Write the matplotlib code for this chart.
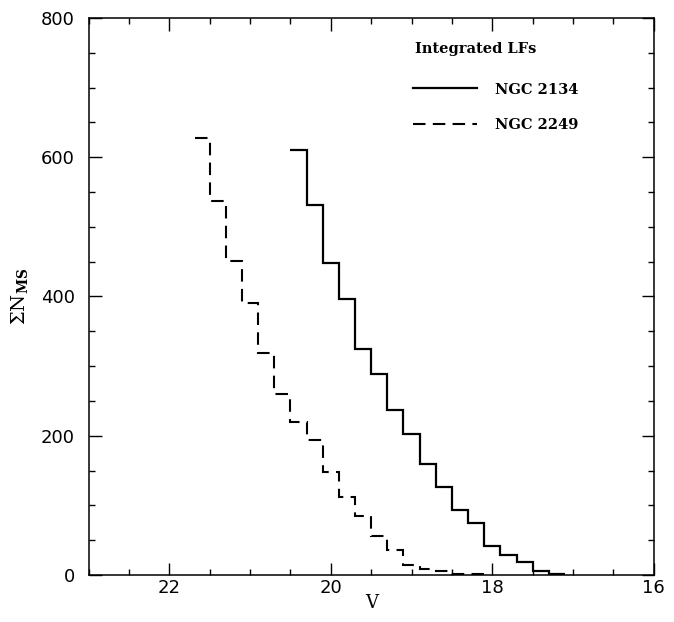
import matplotlib
matplotlib.use("Agg")
import matplotlib.pyplot as plt
from matplotlib.ticker import MultipleLocator

plt.rcParams["mathtext.fontset"] = "dejavuserif"

# Bin edges (V magnitude) and cumulative counts
edges_2134 = [20.5, 20.3, 20.1, 19.9, 19.7, 19.5, 19.3, 19.1, 18.9, 18.7,
              18.5, 18.3, 18.1, 17.9, 17.7, 17.5, 17.3, 17.1]
N_2134 = [610, 532, 448, 396, 325, 288, 237, 202, 160, 127,
          94, 75, 42, 28, 18, 6, 2]

edges_2249 = [21.7, 21.5, 21.3, 21.1, 20.9, 20.7, 20.5, 20.3, 20.1, 19.9,
              19.7, 19.5, 19.3, 19.1, 18.9, 18.7, 18.5, 18.3, 18.1]
N_2249 = [627, 537, 451, 390, 319, 260, 220, 194, 148, 112,
          85, 56, 36, 14, 8, 5, 2, 1]

labels = ["NGC 2134", "NGC 2249"]
legend_title = "Integrated LFs"

fig = plt.figure(figsize=(6.74, 6.22), dpi=100)
ax = fig.add_axes([0.1315, 0.0756, 0.8385, 0.8955])

ax.stairs(N_2134[::-1], edges_2134[::-1], baseline=None, color="black",
          linewidth=1.6, label=labels[0])
ax.stairs(N_2249[::-1], edges_2249[::-1], baseline=None, color="black",
          linewidth=1.5, linestyle=(0, (6, 3.5)), label=labels[1])

ax.set_xlim(23, 16)
ax.set_ylim(0, 800)
ax.xaxis.set_major_locator(MultipleLocator(2))
ax.xaxis.set_minor_locator(MultipleLocator(0.5))
ax.yaxis.set_major_locator(MultipleLocator(200))
ax.yaxis.set_minor_locator(MultipleLocator(50))
ax.tick_params(which="both", direction="in", top=True, right=True,
               width=1.0, labelsize=13)
ax.tick_params(axis="x", pad=3)
ax.tick_params(axis="y", pad=10)
ax.tick_params(which="major", length=9)
ax.tick_params(which="minor", length=4.5)
for lab in ax.get_xticklabels() + ax.get_yticklabels():
    lab.set_family("DejaVu Sans")
for s in ax.spines.values():
    s.set_linewidth(1.1)

ax.set_xlabel("V", family="DejaVu Serif", fontsize=13, labelpad=-2)
ax.set_ylabel(r"$\Sigma \mathrm{N}_{\mathbf{MS}}$", fontsize=14, labelpad=8)

ax.text(0.578, 0.944, legend_title, transform=ax.transAxes, ha="left",
        va="center", family="DejaVu Serif", weight="bold", fontsize=10.5)
leg = ax.legend(loc="upper left", bbox_to_anchor=(0.574, 0.884),
                frameon=False, borderaxespad=0, borderpad=0,
                prop={"family": "DejaVu Serif", "weight": "bold", "size": 10.5},
                handlelength=4.4, handletextpad=1.2, labelspacing=1.5)

fig.savefig("out.png", dpi=100)
